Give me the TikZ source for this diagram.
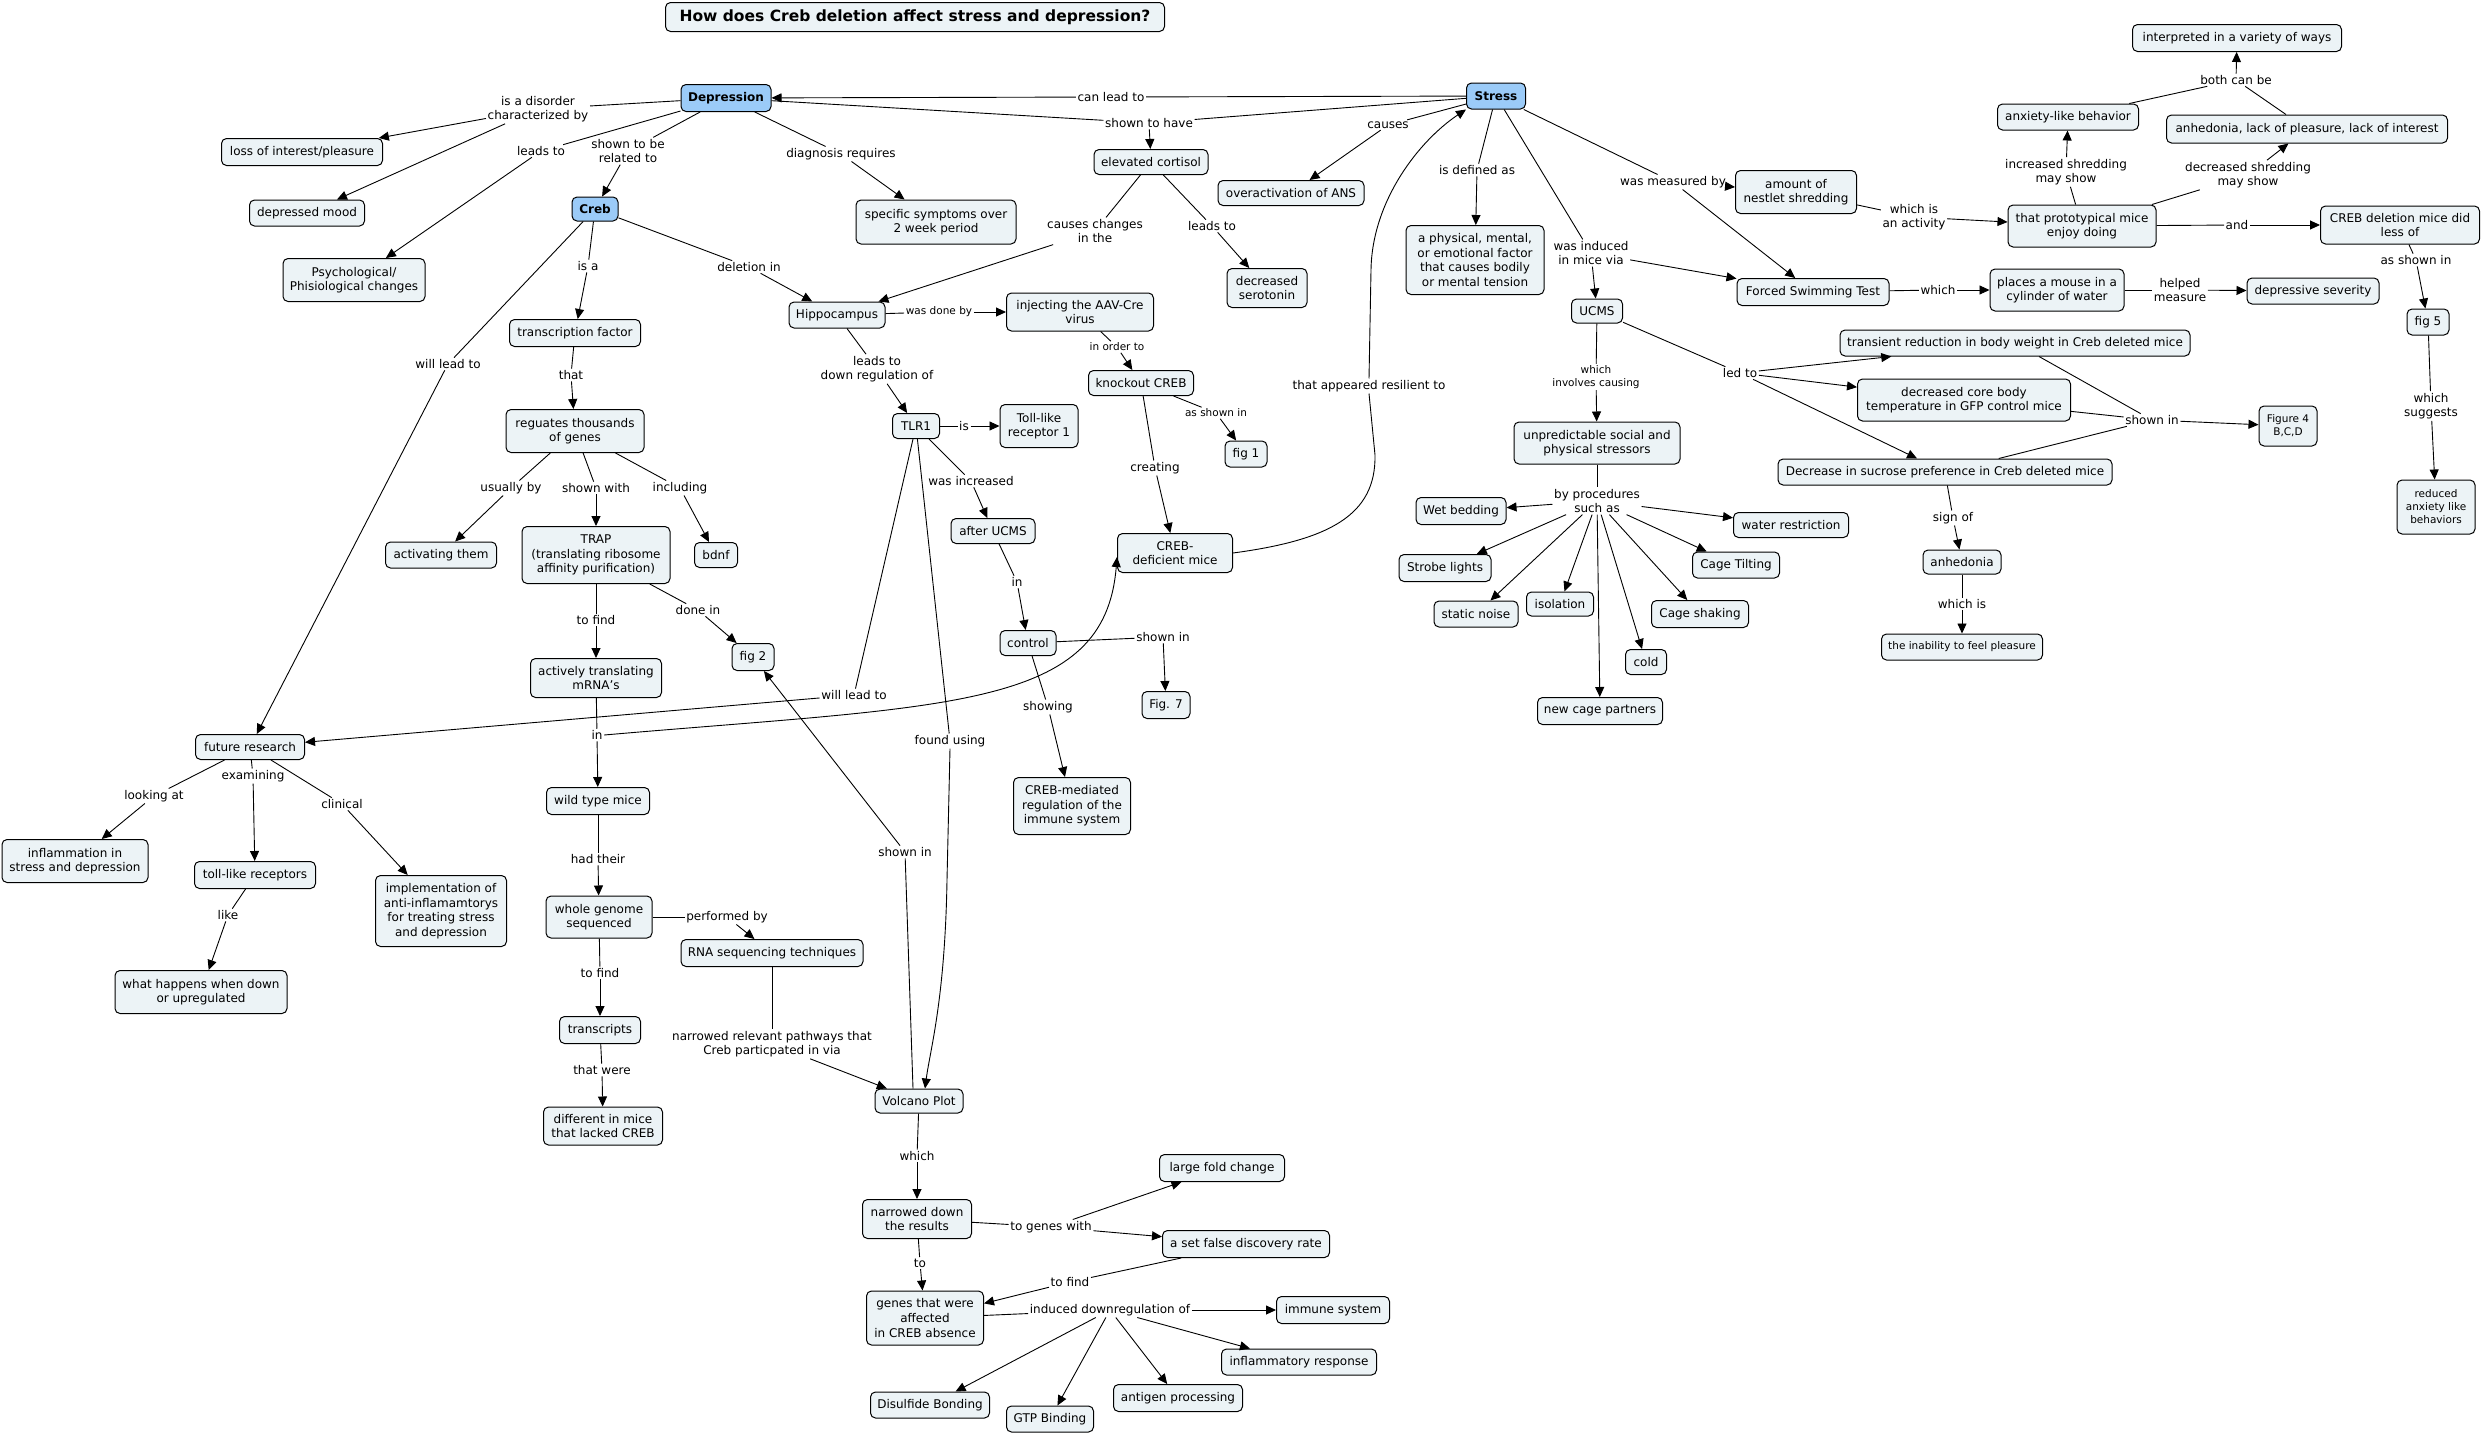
\documentclass[tikz,border=0pt]{standalone}
\usepackage{fontspec}
\setmainfont{DejaVu Sans}
\usetikzlibrary{arrows.meta}
\definecolor{boxfill}{RGB}{236,243,246}
\definecolor{hubblue}{RGB}{155,203,248}
\begin{document}
\begin{tikzpicture}[x=1pt,y=-1pt,
 box/.style={draw=black,line width=1pt,rounded corners=5pt,fill=boxfill,inner xsep=2pt,inner ysep=1pt,align=center,font=\fontsize{12}{14.6}\selectfont},
 sbox/.style={box,font=\fontsize{10.5}{13}\selectfont},
 hub/.style={box,fill=hubblue,font=\fontsize{12}{14.6}\selectfont\bfseries},
 sz/.style 2 args={minimum width=#1pt,minimum height=#2pt},
 lbl/.style={inner sep=1.5pt,align=center,font=\fontsize{12}{14.6}\selectfont},
 slbl/.style={inner sep=1.5pt,align=center,font=\fontsize{10.5}{12.5}\selectfont},
 cn/.style={line width=0.9pt},
 ca/.style={line width=0.9pt,-{Triangle[length=10pt,width=9pt]}},
]
\fill[white] (0,0) rectangle (2482,1435);
\useasboundingbox (0,0) rectangle (2482,1435);

% ---------- concepts ----------
\node[box,sz={499}{29},font=\fontsize{15.5}{18}\selectfont\bfseries] (title) at (915,17) {How does Creb deletion affect stress and depression?};
\node[hub,sz={90}{27}] (dep) at (726,98) {Depression};
\node[hub,sz={59}{26}] (stress) at (1496,96) {Stress};
\node[hub,sz={46}{24}] (creb) at (595,209) {Creb};
\node[box,sz={161}{27}] (loss) at (302,152) {loss of interest/pleasure};
\node[box,sz={115}{26}] (mood) at (307,213) {depressed mood};
\node[box,sz={142}{43}] (psych) at (354,280) {Psychological/\\Phisiological changes};
\node[box,sz={131}{27}] (tf) at (575,333) {transcription factor};
\node[box,sz={138}{43}] (reg) at (575,431) {reguates thousands\\of genes};
\node[box,sz={111}{26}] (act) at (441,555) {activating them};
\node[box,sz={148}{57}] (trap) at (596,555) {TRAP\\(translating ribosome\\affinity purification)};
\node[box,sz={43}{25}] (bdnf) at (716,555) {bdnf};
\node[box,sz={131}{39}] (atm) at (596,678) {actively translating\\mRNA's};
\node[box,sz={42}{27}] (fig2) at (753,657) {fig 2};
\node[box,sz={109}{25}] (fut) at (250,747) {future research};
\node[box,sz={103}{27}] (wt) at (598,801) {wild type mice};
\node[box,sz={146}{43}] (infl) at (75,861) {inflammation in\\stress and depression};
\node[box,sz={121}{27}] (tlrs) at (255,875) {toll-like receptors};
\node[box,sz={131}{71}] (impl) at (441,911) {implementation of\\anti-inflamamtorys\\for treating stress\\and depression};
\node[box,sz={172}{43}] (what) at (201,992) {what happens when down\\or upregulated};
\node[box,sz={106}{42}] (wgs) at (599,917) {whole genome\\sequenced};
\node[box,sz={182}{27}] (rna) at (772,953) {RNA sequencing techniques};
\node[box,sz={81}{27}] (trans) at (600,1030) {transcripts};
\node[box,sz={119}{38}] (diff) at (603,1126) {different in mice\\that lacked CREB};
\node[box,sz={88}{24}] (volc) at (919,1101) {Volcano Plot};
\node[box,sz={109}{39}] (nar) at (917,1219) {narrowed down\\the results};
\node[box,sz={125}{27}] (lfc) at (1222,1168) {large fold change};
\node[box,sz={167}{27}] (fdr) at (1246,1244) {a set false discovery rate};
\node[box,sz={117}{54}] (genes) at (925,1318) {genes that were\\affected\\in CREB absence};
\node[box,sz={119}{26}] (disul) at (930,1405) {Disulfide Bonding};
\node[box,sz={87}{26}] (gtp) at (1050,1419) {GTP Binding};
\node[box,sz={129}{27}] (antig) at (1178,1398) {antigen processing};
\node[box,sz={113}{27}] (immune) at (1333,1310) {immune system};
\node[box,sz={155}{26}] (inflr) at (1299,1362) {inflammatory response};
\node[box,sz={160}{44}] (spec) at (936,222) {specific symptoms over\\2 week period};
\node[box,sz={114}{25}] (cort) at (1151,162) {elevated cortisol};
\node[box,sz={80}{39}] (ser) at (1267,288) {decreased\\serotonin};
\node[box,sz={96}{26}] (hip) at (837,315) {Hippocampus};
\node[box,sz={147}{38}] (inj) at (1080,312) {injecting the AAV-Cre\\virus};
\node[box,sz={105}{25}] (ko) at (1141,383) {knockout CREB};
\node[box,sz={42}{26}] (fig1) at (1246,454) {fig 1};
\node[box,sz={47}{25}] (tlr1) at (916,426) {TLR1};
\node[box,sz={78}{43}] (toll) at (1039,426) {Toll-like\\receptor 1};
\node[box,sz={115}{39}] (cdm) at (1175,553) {CREB-\\deficient mice};
\node[box,sz={84}{25}] (ucmsa) at (993,531) {after UCMS};
\node[box,sz={56}{25}] (ctrl) at (1028,643) {control};
\node[box,sz={48}{27}] (fig7) at (1166,705) {Fig. 7};
\node[box,sz={117}{57}] (cmed) at (1072,806) {CREB-mediated\\regulation of the\\immune system};
\node[box,sz={146}{25}] (ans) at (1291,193) {overactivation of ANS};
\node[box,sz={138}{69}] (phys) at (1475,260) {a physical, mental,\\or emotional factor\\that causes bodily\\or mental tension};
\node[box,sz={51}{24}] (ucms) at (1597,311) {UCMS};
\node[box,sz={166}{42}] (unp) at (1597,443) {unpredictable social and\\physical stressors};
\node[box,sz={90}{27}] (wet) at (1461,511) {Wet bedding};
\node[box,sz={115}{25}] (water) at (1791,525) {water restriction};
\node[box,sz={92}{27}] (strobe) at (1445,568) {Strobe lights};
\node[box,sz={87}{26}] (tilt) at (1736,565) {Cage Tilting};
\node[box,sz={84}{26}] (static) at (1476,614) {static noise};
\node[box,sz={67}{24}] (iso) at (1560,604) {isolation};
\node[box,sz={97}{27}] (shake) at (1700,614) {Cage shaking};
\node[box,sz={41}{25}] (cold) at (1646,662) {cold};
\node[box,sz={125}{27}] (newc) at (1600,711) {new cage partners};
\node[box,sz={121}{43}] (nest) at (1796,192) {amount of\\nestlet shredding};
\node[box,sz={152}{27}] (fst) at (1813,292) {Forced Swimming Test};
\node[box,sz={148}{42}] (proto) at (2082,226) {that prototypical mice\\enjoy doing};
\node[box,sz={134}{42}] (places) at (2057,290) {places a mouse in a\\cylinder of water};
\node[box,sz={132}{26}] (sev) at (2313,291) {depressive severity};
\node[box,sz={141}{26}] (anx) at (2068,117) {anxiety-like behavior};
\node[box,sz={281}{28}] (anh2) at (2307,129) {anhedonia, lack of pleasure, lack of interest};
\node[box,sz={209}{27}] (interp) at (2237,38) {interpreted in a variety of ways};
\node[box,sz={159}{38}] (cdl) at (2400,225) {CREB deletion mice did\\less of};
\node[box,sz={42}{26}] (fig5) at (2428,322) {fig 5};
\node[sbox,sz={78}{54}] (red) at (2436,507) {reduced\\anxiety like\\behaviors};
\node[box,sz={350}{26}] (trw) at (2015,343) {transient reduction in body weight in Creb deleted mice};
\node[box,sz={213}{42}] (core) at (1964,400) {decreased core body\\temperature in GFP control mice};
\node[sbox,sz={58}{40}] (fig4) at (2288,426) {Figure 4\\B,C,D};
\node[box,sz={334}{26}] (suc) at (1945,472) {Decrease in sucrose preference in Creb deleted mice};
\node[box,sz={78}{24}] (anh) at (1962,562) {anhedonia};
\node[sbox,sz={161}{26}] (inab) at (1962,647) {the inability to feel pleasure};

% ---------- linking phrases ----------
\node[lbl] (l1) at (1111,97) {can lead to};
\node[lbl] (l2) at (1149,123) {shown to have};
\node[lbl] (l3) at (538,109) {is a disorder\\characterized by};
\node[lbl] (l4) at (541,151) {leads to};
\node[lbl] (l5) at (628,151) {shown to be\\related to};
\node[lbl] (l6) at (841,154) {diagnosis requires};
\node[lbl] (l7) at (588,266) {is a};
\node[lbl] (l8) at (749,267) {deletion in};
\node[lbl] (l9) at (448,364) {will lead to};
\node[lbl] (l10) at (571,375) {that};
\node[lbl] (l11) at (511,488) {usually by};
\node[lbl] (l12) at (596,488) {shown with};
\node[lbl] (l13) at (680,488) {including};
\node[lbl] (l14) at (596,620) {to find};
\node[lbl] (l15) at (698,610) {done in};
\node[lbl] (l16) at (597,735) {in};
\node[lbl] (l17) at (598,859) {had their};
\node[lbl] (l18) at (727,917) {performed by};
\node[lbl] (l19) at (600,973) {to find};
\node[lbl] (l20) at (602,1070) {that were};
\node[lbl] (l21) at (772,1044) {narrowed relevant pathways that\\Creb particpated in via};
\node[lbl] (l22) at (917,1156) {which};
\node[lbl] (l23) at (1051,1227) {to genes with};
\node[lbl] (l24) at (920,1263) {to};
\node[lbl] (l25) at (1070,1282) {to find};
\node[lbl] (l26) at (1110,1310) {induced downregulation of};
\node[lbl] (l27) at (154,796) {looking at};
\node[lbl] (l28) at (253,776) {examining};
\node[lbl] (l29) at (342,804) {clinical};
\node[lbl] (l30) at (228,915) {like};
\node[lbl] (l31) at (1095,231) {causes changes\\in the};
\node[lbl] (l32) at (1212,226) {leads to};
\node[lbl] (l33) at (1388,125) {causes};
\node[lbl] (l34) at (1477,170) {is defined as};
\node[lbl] (l35) at (1591,253) {was induced\\in mice via};
\node[lbl] (l36) at (1673,182) {was measured by};
\node[slbl] (l37) at (939,312) {was done by};
\node[slbl] (l38) at (1117,347) {in order to};
\node[slbl] (l39) at (1216,413) {as shown in};
\node[lbl] (l40) at (877,369) {leads to\\down regulation of};
\node[lbl] (l41) at (964,426) {is};
\node[lbl] (l42) at (1155,468) {creating};
\node[lbl] (l43) at (1369,386) {that appeared resilient to};
\node[lbl] (l44) at (971,481) {was increased};
\node[lbl] (l45) at (1017,582) {in};
\node[lbl] (l46) at (1163,637) {shown in};
\node[lbl] (l47) at (1048,707) {showing};
\node[lbl] (l48) at (950,741) {found using};
\node[lbl] (l49) at (854,695) {will lead to};
\node[lbl] (l50) at (905,852) {shown in};
\node[slbl] (l51) at (1596,377) {which\\involves causing};
\node[lbl] (l52) at (1597,501) {by procedures\\such as};
\node[lbl] (l53) at (1740,373) {led to};
\node[lbl] (l54) at (2152,420) {shown in};
\node[lbl] (l55) at (1953,518) {sign of};
\node[lbl] (l56) at (1962,604) {which is};
\node[lbl] (l57) at (1914,217) {which is\\an activity};
\node[lbl] (l58) at (1938,290) {which};
\node[lbl] (l59) at (2180,290) {helped\\measure};
\node[lbl] (l60) at (2066,172) {increased shredding\\may show};
\node[lbl] (l61) at (2248,175) {decreased shredding\\may show};
\node[lbl] (l62) at (2236,80) {both can be};
\node[lbl] (l63) at (2237,225) {and};
\node[lbl] (l64) at (2416,260) {as shown in};
\node[lbl] (l65) at (2431,406) {which\\suggests};

% ---------- connectors ----------
\draw[cn] (stress) -- (l1); \draw[ca] (l1) -- (dep);
\draw[cn] (stress) -- (l2); \draw[cn] (dep) -- (l2); \draw[ca] (l2) -- (cort);
\draw[cn] (dep) -- (l3); \draw[ca] (l3) -- (loss); \draw[ca] (l3) -- (mood);
\draw[cn] (dep) -- (l4); \draw[ca] (l4) -- (psych);
\draw[cn] (dep) -- (l5); \draw[ca] (l5) -- (creb);
\draw[cn] (dep) -- (l6); \draw[ca] (l6) -- (spec);
\draw[cn] (creb) -- (l7); \draw[ca] (l7) -- (tf);
\draw[cn] (creb) -- (l8); \draw[ca] (l8) -- (hip);
\draw[cn] (creb) -- (l9); \draw[ca] (l9) -- (fut);
\draw[cn] (tf) -- (l10); \draw[ca] (l10) -- (reg);
\draw[cn] (reg) -- (l11); \draw[ca] (l11) -- (act);
\draw[cn] (reg) -- (l12); \draw[ca] (l12) -- (trap);
\draw[cn] (reg) -- (l13); \draw[ca] (l13) -- (bdnf);
\draw[cn] (trap) -- (l14); \draw[ca] (l14) -- (atm);
\draw[cn] (trap) -- (l15); \draw[ca] (l15) -- (fig2);
\draw[cn] (atm) -- (l16); \draw[ca] (l16) -- (wt);
\draw[ca] (l16.east) .. controls (950,705) and (1105,710) .. ([yshift=-4pt]cdm.west);
\draw[cn] (wt) -- (l17); \draw[ca] (l17) -- (wgs);
\draw[cn] (wgs) -- (l18); \draw[ca] (l18) -- (rna);
\draw[cn] (wgs) -- (l19); \draw[ca] (l19) -- (trans);
\draw[cn] (trans) -- (l20); \draw[ca] (l20) -- (diff);
\draw[cn] (rna) -- (l21); \draw[ca] (l21) -- (volc);
\draw[cn] (volc) -- (l22); \draw[ca] (l22) -- (nar);
\draw[cn] (nar) -- (l23); \draw[ca] (l23) -- (lfc); \draw[ca] (l23) -- (fdr);
\draw[cn] (nar) -- (l24); \draw[ca] (l24) -- (genes);
\draw[cn] (fdr) -- (l25); \draw[ca] (l25) -- (genes);
\draw[cn] (genes) -- (l26);
\draw[ca] (l26) -- (immune); \draw[ca] (l26) -- (inflr); \draw[ca] (l26) -- (antig);
\draw[ca] (l26) -- (gtp); \draw[ca] (l26) -- (disul);
\draw[cn] (fut) -- (l27); \draw[ca] (l27) -- (infl);
\draw[cn] (fut) -- (l28); \draw[ca] (l28) -- (tlrs);
\draw[cn] (fut) -- (l29); \draw[ca] (l29) -- (impl);
\draw[cn] (tlrs) -- (l30); \draw[ca] (l30) -- (what);
\draw[cn] (cort) -- (l31); \draw[ca] (l31) -- (hip);
\draw[cn] (cort) -- (l32); \draw[ca] (l32) -- (ser);
\draw[cn] (stress) -- (l33); \draw[ca] (l33) -- (ans);
\draw[cn] (stress) -- (l34); \draw[ca] (l34) -- (phys);
\draw[cn] (stress) -- (l35); \draw[ca] (l35) -- (ucms); \draw[ca] (l35) -- (fst);
\draw[cn] (stress) -- (l36); \draw[ca] (l36) -- (nest); \draw[ca] (l36) -- (fst);
\draw[cn] (hip) -- (l37); \draw[ca] (l37) -- (inj);
\draw[cn] (inj) -- (l38); \draw[ca] (l38) -- (ko);
\draw[cn] (ko) -- (l39); \draw[ca] (l39) -- (fig1);
\draw[cn] (hip) -- (l40); \draw[ca] (l40) -- (tlr1);
\draw[cn] (tlr1) -- (l41); \draw[ca] (l41) -- (toll);
\draw[cn] (ko) -- (l42); \draw[ca] (l42) -- (cdm);
\draw[cn] (cdm.east) .. controls (1330,540) and (1376,515) .. (1375,455) -- (l43.south);
\draw[ca] (l43.north) -- (1371,270) .. controls (1372,200) and (1420,140) .. (stress.south west);
\draw[cn] (tlr1) -- (l44); \draw[ca] (l44) -- (ucmsa);
\draw[cn] (ucmsa) -- (l45); \draw[ca] (l45) -- (ctrl);
\draw[cn] (ctrl) -- (l46); \draw[ca] (l46) -- (fig7);
\draw[cn] (ctrl) -- (l47); \draw[ca] (l47) -- (cmed);
\draw[cn] (tlr1) -- (l48);
\draw[ca] (l48.south) -- (947,880) .. controls (945,1000) and (930,1050) .. ([xshift=6pt]volc.north);
\draw[cn] (tlr1) -- (l49); \draw[ca] (l49) -- (fut);
\draw[cn] ([xshift=-6pt]volc.north) -- (l50); \draw[ca] (l50) -- (fig2);
\draw[cn] (ucms) -- (l51); \draw[ca] (l51) -- (unp);
\draw[cn] (unp) -- (l52);
\draw[ca] (l52) -- (wet); \draw[ca] (l52) -- (water); \draw[ca] (l52) -- (strobe);
\draw[ca] (l52) -- (tilt); \draw[ca] (l52) -- (static); \draw[ca] (l52) -- (iso);
\draw[ca] (l52) -- (shake); \draw[ca] (l52) -- (cold); \draw[ca] (l52) -- (newc);
\draw[cn] (ucms) -- (l53); \draw[ca] (l53) -- (trw); \draw[ca] (l53) -- (core); \draw[ca] (l53) -- (suc);
\draw[cn] (trw) -- (l54); \draw[cn] (core) -- (l54); \draw[cn] (suc) -- (l54); \draw[ca] (l54) -- (fig4);
\draw[cn] (suc) -- (l55); \draw[ca] (l55) -- (anh);
\draw[cn] (anh) -- (l56); \draw[ca] (l56) -- (inab);
\draw[cn] (nest) -- (l57); \draw[ca] (l57) -- (proto);
\draw[cn] (fst) -- (l58); \draw[ca] (l58) -- (places);
\draw[cn] (places) -- (l59); \draw[ca] (l59) -- (sev);
\draw[cn] (proto) -- (l60); \draw[ca] (l60) -- (anx);
\draw[cn] (proto) -- (l61); \draw[ca] (l61) -- (anh2);
\draw[cn] (anx) -- (l62); \draw[cn] (anh2) -- (l62); \draw[ca] (l62) -- (interp);
\draw[cn] (proto) -- (l63); \draw[ca] (l63) -- (cdl);
\draw[cn] (cdl) -- (l64); \draw[ca] (l64) -- (fig5);
\draw[cn] (fig5) -- (l65); \draw[ca] (l65) -- (red);
\end{tikzpicture}
\end{document}
